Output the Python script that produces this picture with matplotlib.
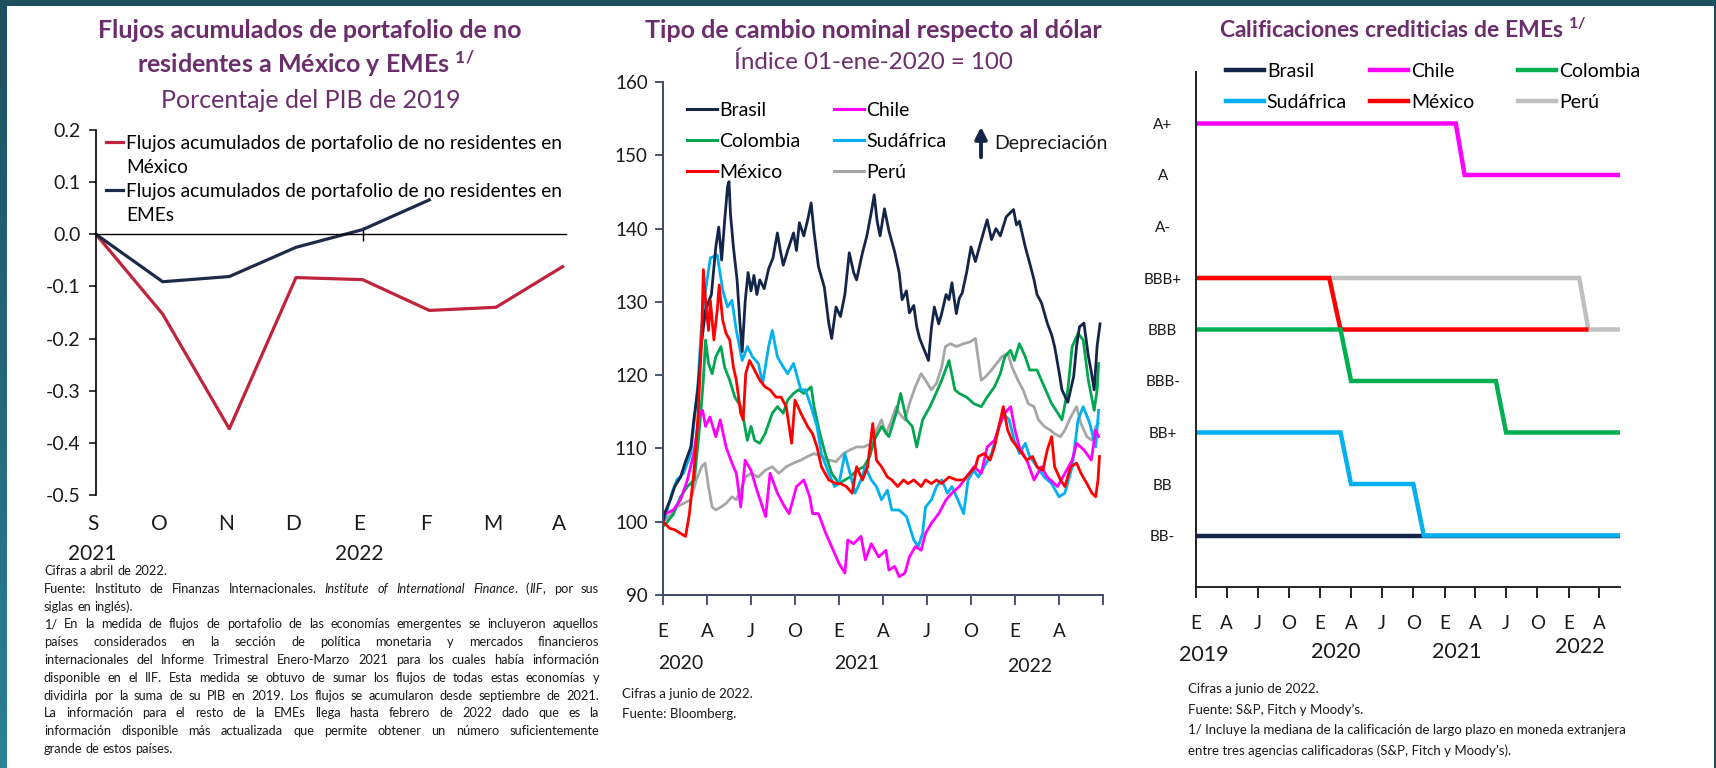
import matplotlib
matplotlib.use('Agg')
import matplotlib.pyplot as plt
from matplotlib.transforms import IdentityTransform, blended_transform_factory
from matplotlib.lines import Line2D
from matplotlib.ticker import FuncFormatter
import numpy as np
import pandas as pd

plt.rcParams['font.family'] = ['Lato', 'DejaVu Sans']
plt.rcParams['mathtext.default'] = 'regular'
plt.rcParams['axes.unicode_minus'] = False

# ---------------- data ----------------
# panel 1: flujos acumulados (% PIB 2019)
p1_months = ['S', 'O', 'N', 'D', 'E', 'F', 'M', 'A']
p1_mexico = [0.0, -0.153, -0.373, -0.083, -0.087, -0.146, -0.140, -0.062]
p1_emes = [0.0, -0.091, -0.081, -0.025, 0.009, 0.066]

# panel 2: tipo de cambio (x = meses desde 01-ene-2020)
brasil_m = [0, 0.1, 0.5, 0.8, 1.2, 1.5, 1.9, 2.1, 2.4, 2.6, 2.9, 3.3, 3.6, 3.8, 4.0, 4.2, 4.4, 4.5, 4.6, 4.8,
            5.05, 5.25, 5.4, 5.6, 5.8, 6.0, 6.2, 6.4, 6.6, 6.9, 7.2, 7.5, 7.8, 8.0, 8.2, 8.5, 8.9, 9.1, 9.3, 9.6,
            9.9, 10.1, 10.3, 10.6, 11.0, 11.3, 11.5, 11.8, 12.1, 12.4, 12.7, 13.0, 13.2, 13.6, 13.9, 14.2, 14.4,
            14.6, 14.8, 15.1, 15.4, 15.8, 16.1, 16.3, 16.6, 16.8, 17.1, 17.3, 17.5, 17.8, 18.1, 18.3, 18.5, 18.8,
            19.0, 19.3, 19.5, 19.7, 20.0, 20.2, 20.4, 20.7, 21.0, 21.3, 21.7, 22.1, 22.4, 22.7, 23.0, 23.4, 23.9,
            24.1, 24.3, 24.7, 25.0, 25.3, 25.5, 25.8, 26.2, 26.5, 26.7, 27.0, 27.2, 27.6, 28.0, 28.2, 28.4, 28.7,
            29.0, 29.2, 29.4, 29.6, 29.8]
brasil_v = [100, 101.1, 103, 104.8, 106.1, 108, 110.2, 113.9, 118.4, 123.9, 128.9, 131.0, 137.5, 140.2, 135.7,
            141.0, 145.7, 146.4, 142.0, 137.5, 133.0, 127.0, 123.2, 130.0, 134.0, 131.5, 133.6, 131.0, 133.0,
            131.8, 134.5, 136.0, 139.4, 137.0, 135.0, 137.0, 139.4, 137.0, 140.8, 139.0, 141.5, 143.5, 139.5,
            134.8, 132.0, 127.1, 125.0, 129.3, 128.0, 131.0, 136.7, 134.0, 133.0, 136.7, 139.0, 142.2, 144.6,
            141.0, 139.0, 142.7, 139.7, 136.8, 134.0, 130.3, 131.5, 128.5, 129.5, 126.6, 125.0, 123.5, 122.0,
            126.4, 129.3, 127.0, 128.4, 131.0, 130.3, 132.6, 128.4, 130.5, 131.2, 134.0, 137.5, 135.5, 138.4,
            141.2, 138.5, 140.0, 139.0, 141.6, 142.6, 140.5, 141.0, 137.5, 135.3, 133.0, 131.0, 129.9, 127.1,
            125.5, 123.9, 120.5, 118.0, 116.3, 119.8, 124.0, 126.6, 127.1, 122.6, 120.5, 118.0, 124.0, 127.0]

chile_m = [0, 0.1, 0.7, 1.2, 1.66, 2.1, 2.5, 2.7, 2.9, 3.2, 3.6, 3.9, 4.3, 4.7, 5.0, 5.3, 5.6, 6.0, 6.4, 7.0,
           7.3, 7.8, 8.3, 8.6, 9.1, 9.6, 10.0, 10.2, 10.6, 11.1, 11.5, 12.0, 12.4, 12.6, 13.0, 13.5, 13.8, 14.2,
           14.7, 15.2, 15.4, 15.8, 16.1, 16.5, 16.8, 17.2, 17.6, 17.9, 18.3, 18.8, 19.3, 19.7, 20.2, 20.7, 21.2,
           21.7, 22.1, 22.6, 23.0, 23.3, 23.7, 24.0, 24.3, 24.8, 25.3, 25.8, 26.2, 26.9, 27.4, 27.9, 28.2, 28.7,
           29.2, 29.5, 29.7]
chile_v = [100, 101, 101.6, 103, 105.7, 109.3, 114.8, 115.2, 113, 114.3, 111.6, 113.9, 110.2, 108, 106.6, 102,
           108.4, 107, 104.3, 100.7, 106.6, 103.9, 102, 101.1, 104.8, 105.7, 103.4, 101.1, 101.1, 98.4, 96.6,
           94.3, 93.0, 97.5, 97, 98, 94.8, 97, 95.2, 96.1, 93.4, 93.9, 92.5, 93, 95.2, 96.6, 96.1, 98.4, 99.8,
           101.1, 103, 103.9, 104.8, 106.1, 107.5, 106.6, 110.2, 111.1, 113.4, 114.8, 115.7, 112.5, 110.2, 108.4,
           105.7, 107.5, 106.1, 104.8, 106.6, 108.4, 110.7, 109.8, 108.4, 112.5, 111.6]

colombia_m = [0, 0.1, 0.7, 1.2, 1.66, 2.14, 2.5, 2.75, 2.9, 3.1, 3.35, 3.6, 3.95, 4.2, 4.55, 4.9, 5.3, 5.5,
              5.75, 6.0, 6.25, 6.6, 6.96, 7.45, 7.8, 8.2, 8.5, 8.9, 9.25, 9.6, 10.1, 10.3, 10.7, 11.06, 11.5,
              12.0, 12.4, 12.75, 13.2, 13.7, 14.1, 14.4, 14.9, 15.4, 15.9, 16.2, 16.6, 17.0, 17.3, 17.7, 18.2,
              18.5, 19.0, 19.5, 19.9, 20.2, 20.7, 21.2, 21.7, 22.1, 22.6, 23.0, 23.3, 23.7, 23.95, 24.3, 24.7,
              25.0, 25.5, 26.0, 26.5, 26.8, 27.2, 27.6, 27.9, 28.3, 28.65, 29.0, 29.4, 29.6, 29.7]
colombia_v = [100, 99.5, 101, 103.4, 104.8, 105.7, 113, 119.3, 124.8, 121.6, 120.2, 122.5, 123.9, 121.1, 119.3,
              117, 115.7, 113.9, 111.1, 113, 111.1, 110.7, 112, 114.8, 115.7, 114.8, 116.6, 117.5, 118, 117.5,
              118.4, 115.7, 112, 109.3, 106.6, 105.2, 105.7, 106.1, 107, 107.5, 108.9, 111.1, 113, 111.6, 114.8,
              117.5, 113.9, 113, 110.2, 113.9, 115.7, 117, 119.3, 122, 118, 117.5, 117, 116.1, 115.7, 117, 118.4,
              120.2, 122.5, 123.4, 122, 124.3, 122.5, 120.7, 120.7, 118.4, 116.1, 115.2, 113.9, 118, 123.9,
              125.7, 124.8, 119.3, 115.2, 118, 121.6]

sudafrica_m = [0, 0.1, 0.6, 0.94, 1.4, 1.9, 2.14, 2.4, 2.6, 2.9, 3.23, 3.7, 4.07, 4.4, 4.7, 5.0, 5.4, 5.76, 6.1,
               6.5, 6.8, 7.2, 7.45, 7.8, 8.2, 8.5, 8.9, 9.4, 9.7, 10.1, 10.5, 10.8, 11.3, 11.7, 12.0, 12.4, 12.75,
               13.1, 13.5, 13.8, 14.2, 14.55, 14.9, 15.3, 15.6, 16.1, 16.6, 17.1, 17.4, 17.7, 17.9, 18.3, 18.65,
               19.0, 19.4, 19.7, 20.1, 20.5, 20.8, 21.2, 21.5, 21.9, 22.4, 22.9, 23.2, 23.6, 23.95, 24.3, 24.7,
               25.0, 25.5, 26.0, 26.5, 27.0, 27.4, 27.9, 28.3, 28.65, 29.1, 29.5, 29.7]
sudafrica_v = [100, 100.2, 103.9, 105.7, 106.6, 109.3, 113.9, 119.3, 126.1, 131.6, 136, 136.4, 131.6, 129.3,
               130.2, 126.1, 122, 123.9, 122.5, 121.6, 118.9, 123.9, 126.1, 122.5, 121.1, 120.2, 121.6, 118, 118,
               115.7, 113, 109.3, 106.6, 104.8, 105.2, 109.3, 106.6, 103.9, 105.7, 107.5, 105.7, 104.8, 103, 104.3,
               101.6, 101.6, 100.7, 97.5, 96.6, 98.4, 102, 103, 104.8, 105.7, 103.9, 104.8, 103, 101.1, 105.7, 107,
               106.1, 107.5, 109.3, 113, 114.8, 113.9, 111.1, 109.3, 110.7, 108.9, 107.5, 106.1, 105.2, 103.4,
               103.9, 107.5, 113.9, 115.7, 113.4, 110.2, 115.2]

mexico_m = [0, 0.1, 0.46, 0.8, 1.2, 1.54, 1.8, 2.14, 2.4, 2.63, 2.75, 2.9, 3.1, 3.23, 3.47, 3.7, 3.83, 4.07, 4.3,
            4.55, 4.8, 5.0, 5.3, 5.47, 5.64, 5.9, 6.24, 6.6, 6.96, 7.3, 7.7, 8.05, 8.4, 8.77, 9.0, 9.4, 9.86, 10.2,
            10.5, 10.8, 11.3, 11.8, 12.1, 12.5, 12.9, 13.2, 13.6, 13.95, 14.3, 14.55, 14.9, 15.3, 15.6, 16.0, 16.4,
            16.7, 17.1, 17.6, 17.9, 18.3, 18.65, 19.0, 19.5, 20.0, 20.5, 20.9, 21.3, 21.5, 21.9, 22.3, 22.6, 23.0,
            23.2, 23.5, 23.8, 24.3, 24.8, 25.2, 25.5, 25.9, 26.2, 26.5, 26.7, 27.1, 27.4, 27.8, 28.2, 28.5, 28.9,
            29.25, 29.5, 29.66, 29.76]
mexico_v = [100, 99.8, 99.1, 98.9, 98.4, 98, 101.1, 107.5, 114.8, 124.8, 134.4, 130.2, 126.1, 130.2, 124.8, 128.9,
            132.3, 127.5, 125.7, 124.8, 121.1, 119.3, 114.8, 113.9, 120.2, 122, 120.7, 119.3, 118.4, 118, 117, 117,
            115.7, 110.7, 116.6, 114.8, 113, 112, 110.2, 107.5, 105.7, 105.2, 105.2, 104.8, 103.9, 107.5, 105.7,
            107.5, 113.4, 108.4, 107.5, 106.1, 105.7, 104.8, 105.7, 105.2, 105.7, 104.8, 105.7, 105.2, 105.7,
            105.2, 106.1, 105.7, 105.7, 106.6, 107.5, 108.9, 109.3, 108.4, 110.2, 113.9, 115.7, 112.5, 111.1,
            109.8, 108.4, 108.9, 107.5, 107, 109.8, 111.6, 107.5, 105.7, 104.8, 107.5, 108, 106.6, 105.2, 103.9,
            103.4, 105.7, 108.9]

peru_m = [0, 0.1, 0.6, 0.94, 1.4, 1.9, 2.27, 2.63, 2.87, 3.1, 3.35, 3.6, 3.95, 4.3, 4.7, 5.0, 5.4, 5.64, 6.0, 6.5,
          6.96, 7.45, 7.9, 8.4, 8.9, 9.4, 9.86, 10.3, 10.8, 11.3, 11.8, 12.3, 12.75, 13.2, 13.7, 14.2, 14.55, 14.9,
          15.2, 15.5, 15.9, 16.1, 16.5, 16.8, 17.2, 17.6, 17.9, 18.3, 18.65, 19.0, 19.25, 19.6, 20.0, 20.5, 20.9,
          21.3, 21.7, 22.0, 22.4, 22.75, 23.1, 23.5, 23.8, 24.2, 24.55, 24.9, 25.3, 25.6, 26.0, 26.4, 26.7, 27.1,
          27.4, 27.8, 28.2, 28.5, 28.9, 29.25, 29.5, 29.7]
peru_v = [100, 100.2, 101.1, 102, 102.5, 103, 105.7, 107.5, 108, 104.8, 102, 101.6, 102, 102.5, 103.4, 103, 104.8,
          106.1, 106.6, 106.1, 107, 107.5, 106.6, 107.5, 108, 108.4, 108.9, 109.3, 108.9, 108.4, 108.2, 109.3,
          109.8, 110.2, 110.2, 110.7, 112.5, 113.9, 112, 113.4, 115.7, 114.8, 113.9, 116.1, 118.4, 120.2, 119.3,
          118, 118.9, 121.1, 123.9, 124.3, 123.9, 124.3, 124.5, 125, 119.3, 119.8, 120.7, 121.6, 122.5, 123,
          121.1, 119.3, 118, 116.1, 115.7, 113.9, 113, 112.5, 112, 111.6, 112.5, 114.3, 115.7, 113.4, 111.6,
          111.1, 113, 113.4]

p2_tick_labels = ['E', 'A', 'J', 'O', 'E', 'A', 'J', 'O', 'E', 'A', '']

# panel 3: calificaciones
ratings = ['BB-', 'BB', 'BB+', 'BBB-', 'BBB', 'BBB+', 'A-', 'A', 'A+']
brasil3_d = ['2019-01-01', '2022-06-01']
brasil3_r = ['BB-', 'BB-']
chile3_d = ['2019-01-01', '2021-02-03', '2021-03-01', '2022-06-01']
chile3_r = ['A+', 'A+', 'A', 'A']
colombia3_d = ['2019-01-01', '2020-03-01', '2020-04-01', '2021-06-01', '2021-07-01', '2022-06-01']
colombia3_r = ['BBB', 'BBB', 'BBB-', 'BBB-', 'BB+', 'BB+']
sudafrica3_d = ['2019-01-01', '2020-03-01', '2020-04-01', '2020-10-01', '2020-11-01', '2022-06-01']
sudafrica3_r = ['BB+', 'BB+', 'BB', 'BB', 'BB-', 'BB-']
mexico3_d = ['2019-01-01', '2020-01-28', '2020-03-01', '2022-02-22']
mexico3_r = ['BBB+', 'BBB+', 'BBB', 'BBB']
peru3_d = ['2019-01-01', '2022-02-01', '2022-02-28', '2022-06-01']
peru3_r = ['BBB+', 'BBB+', 'BBB', 'BBB']
p3_tick_labels = ['E', 'A', 'J', 'O'] * 3 + ['E', 'A']

# ---------------- style ----------------
W, H = 1716, 768
PURPLE = '#6B2D6B'
TXT = '#1A1A1A'
NAVY = '#14254A'
C_BR, C_CL, C_CO = '#14254A', '#FF00FF', '#00A650'
C_ZA, C_MX, C_PE = '#00B0F0', '#FF0000', '#A6A6A6'
SPINE2 = '#3D4A66'

fig = plt.figure(figsize=(W / 100, H / 100), dpi=100)
fig.patch.set_facecolor('white')
PX = IdentityTransform()


def ftext(x, y, s, **kw):
    # x, y in pixels from top-left
    kw.setdefault('color', TXT)
    return fig.text(x, H - y, s, transform=PX, **kw)


def fpos(x, y):
    return (x / W, 1 - y / H)


def para(lines, x0, x1, y0, dy, size, justify):
    r = fig.canvas.get_renderer()
    ta = fig.text(0, 0, 'a', fontsize=size)
    tb = fig.text(0, 0, 'a a', fontsize=size)
    sp = tb.get_window_extent(r).width - 2 * ta.get_window_extent(r).width
    ta.remove(); tb.remove()
    italic = False
    for i, line in enumerate(lines):
        y = H - (y0 + i * dy)
        items, widths = [], []
        for w in line.split(' '):
            segs = []
            for j, p in enumerate(w.split('*')):
                if j > 0:
                    italic = not italic
                if p:
                    t = fig.text(0, y, p, transform=PX, fontsize=size, color=TXT,
                                 style='italic' if italic else 'normal', va='baseline')
                    segs.append((t, t.get_window_extent(r).width))
            items.append(segs)
            widths.append(sum(s[1] for s in segs))
        gap = sp
        if justify[i] and len(items) > 1:
            gap = max((x1 - x0 - sum(widths)) / (len(items) - 1), 0.6 * sp)
        x = x0
        for segs, wsum in zip(items, widths):
            for t, wpx in segs:
                t.set_x(x)
                x += wpx
            x += gap


# frame of the slide
top = fig.add_axes([0, 1 - 6 / H, 1, 6 / H])
top.set_axis_off()
top.add_patch(plt.Rectangle((0, 0), 1, 1, color='#1E4F5F', transform=top.transAxes))
lft = fig.add_axes([0, 0, 7 / W, 1])
lft.imshow(np.linspace(0, 1, 100)[:, None], aspect='auto',
           cmap=matplotlib.colors.LinearSegmentedColormap.from_list('t', ['#1E4F5F', '#2B8195']))
lft.set_axis_off()
rgt = fig.add_axes([1 - 2 / W, 0, 2 / W, 1])
rgt.set_axis_off()
rgt.add_patch(plt.Rectangle((0, 0), 1, 1, color='#1E4F5F', transform=rgt.transAxes))

# ================= panel 1 =================
ftext(310, 31, 'Flujos acumulados de portafolio de no', fontsize=18, fontweight='bold', color=PURPLE, ha='center', va='center')
ftext(306, 64, 'residentes a México y EMEs $^{1/}$', fontsize=18, fontweight='bold', color=PURPLE, ha='center', va='center')
ftext(311, 101, 'Porcentaje del PIB de 2019', fontsize=18, color=PURPLE, ha='center', va='center')

ax1 = fig.add_axes([96 / W, (H - 495) / H, 470 / W, 365 / H])
ax1.plot(np.arange(len(p1_mexico)), p1_mexico, color='#C0243C', lw=2.3)
ax1.plot(np.arange(len(p1_emes)), p1_emes, color='#1F2A4A', lw=2.3)
ax1.set_xlim(0, 7.05)
ax1.set_ylim(-0.5, 0.2)
ax1.set_yticks(np.arange(-0.5, 0.21, 0.1))
ax1.yaxis.set_major_formatter(FuncFormatter(lambda v, p: f'{round(v, 1) + 0.0:.1f}'))
ax1.tick_params(axis='y', labelsize=14, length=5, width=1.2, colors=TXT, pad=6)
for s in ['top', 'right']:
    ax1.spines[s].set_visible(False)
ax1.spines['left'].set_linewidth(1.2)
ax1.spines['bottom'].set_position(('data', 0))
ax1.spines['bottom'].set_linewidth(1.0)
ax1.set_xticks([4])
ax1.set_xticklabels([''])
ax1.tick_params(axis='x', direction='inout', length=10, width=1.0)
tr1 = blended_transform_factory(ax1.transData, ax1.transAxes)
for i, lab in enumerate(p1_months):
    ax1.text(i - 0.05, -0.08, lab, transform=tr1, ha='center', va='center', fontsize=15, color=TXT)
ax1.text(-0.05, -0.163, '2021', transform=tr1, ha='center', va='center', fontsize=15, color=TXT)
ax1.text(3.95, -0.163, '2022', transform=tr1, ha='center', va='center', fontsize=15, color=TXT)

blank = Line2D([], [], color='none')
leg1 = ax1.legend([Line2D([], [], color='#C0243C', lw=2.3), blank,
                   Line2D([], [], color='#1F2A4A', lw=2.3), blank],
                  ['Flujos acumulados de portafolio de no residentes en', 'México',
                   'Flujos acumulados de portafolio de no residentes en', 'EMEs'],
                  loc='upper left', bbox_to_anchor=fpos(106, 135), bbox_transform=fig.transFigure,
                  frameon=False, fontsize=13.8, handlelength=0.9, handletextpad=0.15,
                  labelspacing=0.36, borderpad=0, borderaxespad=0)

notes1 = [
    'Cifras a abril de 2022.',
    'Fuente: Instituto de Finanzas Internacionales. *Institute of International Finance*. (*IIF*, por sus',
    'siglas en inglés).',
    '1/ En la medida de flujos de portafolio de las economías emergentes se incluyeron aquellos',
    'países considerados en la sección de política monetaria y mercados financieros',
    'internacionales del Informe Trimestral Enero-Marzo 2021 para los cuales había información',
    'disponible en el IIF. Esta medida se obtuvo de sumar los flujos de todas estas economías y',
    'dividirla por la suma de su PIB en 2019. Los flujos se acumularon desde septiembre de 2021.',
    'La información para el resto de la EMEs llega hasta febrero de 2022 dado que es la',
    'información disponible más actualizada que permite obtener un número suficientemente',
    'grande de estos países.',
]
para(notes1, 44, 599, 575, 17.8, 9.2, [False, True, False, True, True, True, True, True, True, True, False])

# ================= panel 2 =================
ftext(873, 30, 'Tipo de cambio nominal respecto al dólar', fontsize=18, fontweight='bold', color=PURPLE, ha='center', va='center')
ftext(873, 62, 'Índice 01-ene-2020 = 100', fontsize=17.4, color=PURPLE, ha='center', va='center')

ax2 = fig.add_axes([663 / W, (H - 595) / H, 440 / W, 513 / H])
series2 = [('Perú', peru_m, peru_v, C_PE), ('Colombia', colombia_m, colombia_v, C_CO),
           ('Sudáfrica', sudafrica_m, sudafrica_v, C_ZA), ('Chile', chile_m, chile_v, C_CL),
           ('Brasil', brasil_m, brasil_v, C_BR), ('México', mexico_m, mexico_v, C_MX)]
for name, m, v, c in series2:
    ax2.plot(m, v, color=c, lw=2.0, solid_joinstyle='round')
ax2.set_xlim(0, 30)
ax2.set_ylim(90, 160)
ax2.set_yticks(range(90, 161, 10))
ax2.set_xticks(range(0, 31, 3))
ax2.set_xticklabels(p2_tick_labels)
for s in ['top', 'right']:
    ax2.spines[s].set_visible(False)
for s in ['left', 'bottom']:
    ax2.spines[s].set_color(SPINE2)
    ax2.spines[s].set_linewidth(1.4)
ax2.tick_params(axis='y', labelsize=13.5, length=6, width=1.3, color=SPINE2, labelcolor=TXT, pad=5)
ax2.tick_params(axis='x', labelsize=13.5, length=7, width=1.3, color=SPINE2, labelcolor=TXT, pad=13)
tr2 = blended_transform_factory(ax2.transData, ax2.transAxes)
ax2.text(1.2, -0.133, '2020', transform=tr2, ha='center', va='center', fontsize=14, color=TXT)
ax2.text(13.2, -0.133, '2021', transform=tr2, ha='center', va='center', fontsize=14, color=TXT)
ax2.text(25.0, -0.140, '2022', transform=tr2, ha='center', va='center', fontsize=14, color=TXT)

leg_kw = dict(frameon=False, fontsize=14, handlelength=1.55, handletextpad=0.1, labelspacing=0.72,
              borderpad=0, borderaxespad=0, loc='upper left', bbox_transform=fig.transFigure)
l2a = ax2.legend([Line2D([], [], color=c, lw=2.2) for c in (C_BR, C_CO, C_MX)],
                 ['Brasil', 'Colombia', 'México'], bbox_to_anchor=fpos(687, 102), **leg_kw)
ax2.add_artist(l2a)
ax2.legend([Line2D([], [], color=c, lw=2.2) for c in (C_CL, C_ZA, C_PE)],
           ['Chile', 'Sudáfrica', 'Perú'], bbox_to_anchor=fpos(834, 102), **leg_kw)
ax2.annotate('', xy=fpos(981, 124), xytext=fpos(981, 160), xycoords='figure fraction',
             arrowprops=dict(arrowstyle='-|>,head_width=0.35,head_length=0.7', color=NAVY, lw=2.8))
ftext(994, 143, 'Depreciación', fontsize=14, ha='left', va='center')

ftext(622, 694, 'Cifras a junio de 2022.', fontsize=9.5, va='center')
ftext(622, 714, 'Fuente: Bloomberg.', fontsize=9.5, va='center')

# ================= panel 3 =================
ftext(1403, 30, 'Calificaciones crediticias de EMEs $^{1/}$', fontsize=16.5, fontweight='bold', color=PURPLE, ha='center', va='center')

ax3 = fig.add_axes([1196 / W, (H - 587) / H, 424 / W, 515 / H])
lvl = {r: i + 1 for i, r in enumerate(ratings)}
series3 = [('Brasil', brasil3_d, brasil3_r, C_BR), ('Sudáfrica', sudafrica3_d, sudafrica3_r, C_ZA),
           ('Perú', peru3_d, peru3_r, '#BFBFBF'), ('México', mexico3_d, mexico3_r, C_MX),
           ('Colombia', colombia3_d, colombia3_r, '#00B050'), ('Chile', chile3_d, chile3_r, C_CL)]
h3 = {}
for name, d, r, c in series3:
    h3[name], = ax3.plot(pd.to_datetime(d), [lvl[k] for k in r], color=c, lw=3.2, solid_joinstyle='miter')
ax3.set_xlim(pd.Timestamp('2019-01-01'), pd.Timestamp('2022-06-01'))
ax3.set_ylim(0, 10)
ax3.set_yticks(range(1, 10))
ax3.set_yticklabels(ratings, ha='center')
ax3.tick_params(axis='y', length=0, labelsize=11, pad=24, labelcolor=TXT)
ax3.set_xticks(pd.date_range('2019-01-01', '2022-04-01', freq='QS'))
ax3.set_xticklabels(p3_tick_labels)
ax3.tick_params(axis='x', labelsize=13.5, length=8, width=1.4, color='#222222', labelcolor=TXT, pad=12)
for s in ['top', 'right']:
    ax3.spines[s].set_visible(False)
for s in ['left', 'bottom']:
    ax3.spines[s].set_color('#222222')
    ax3.spines[s].set_linewidth(1.4)
tr3 = blended_transform_factory(ax3.transData, ax3.transAxes)
for d, lab, yy in [('2019-01-25', '2019', -0.132), ('2020-02-15', '2020', -0.127),
                   ('2021-02-05', '2021', -0.127), ('2022-02-03', '2022', -0.117)]:
    ax3.text(pd.Timestamp(d), yy, lab, transform=tr3, ha='center', va='center', fontsize=15.5, color=TXT)

leg_kw3 = dict(frameon=False, fontsize=14, handlelength=1.95, handletextpad=0.15, labelspacing=0.72,
               borderpad=0, borderaxespad=0, loc='upper left', bbox_transform=fig.transFigure)
cols3 = [(('Brasil', 'Sudáfrica'), 1226), (('Chile', 'México'), 1370), (('Colombia', 'Perú'), 1518)]
for k, (cols, x0) in enumerate(cols3):
    lg = ax3.legend([Line2D([], [], color=h3[n].get_color(), lw=3.2) for n in cols], list(cols),
                    bbox_to_anchor=fpos(x0, 63), **leg_kw3)
    if k < len(cols3) - 1:
        ax3.add_artist(lg)

notes3 = ['Cifras a junio de 2022.', 'Fuente: S&P, Fitch y Moody’s.',
          '1/ Incluye la mediana de la calificación de largo plazo en moneda extranjera',
          'entre tres agencias calificadoras (S&P, Fitch y Moody’s).']
for i, t in enumerate(notes3):
    ftext(1188, 689 + 20.5 * i, t, fontsize=9.5, va='center')

fig.savefig('out.png', dpi=100, facecolor='white')
